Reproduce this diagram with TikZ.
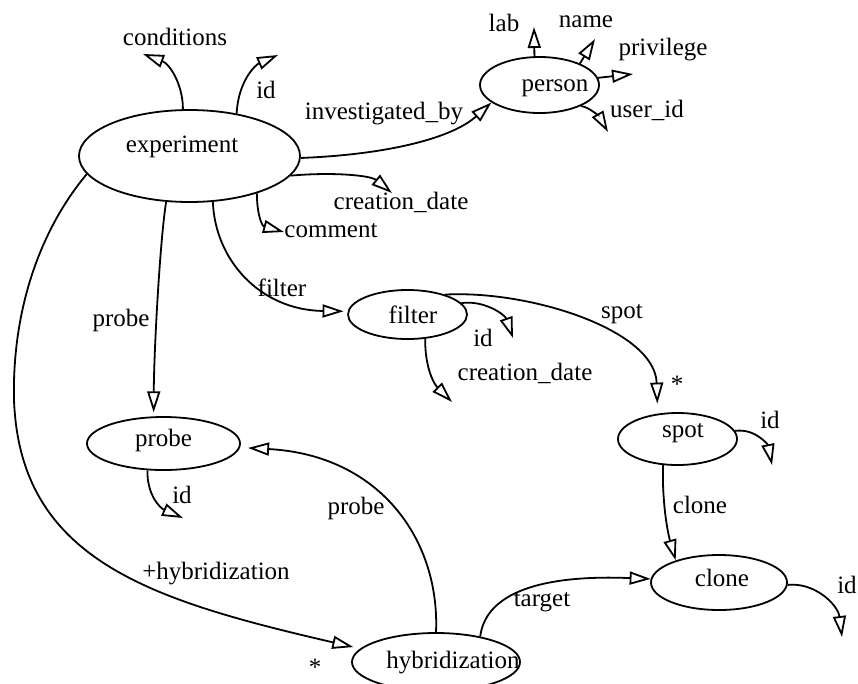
\documentclass[tikz,border=0pt]{standalone}
\usepackage{fontspec}
\setmainfont{Liberation Serif}
\usetikzlibrary{shapes.geometric,arrows.meta}
\begin{document}
\begin{tikzpicture}[x=1pt,y=-1pt,
  ent/.style={ellipse,draw,line width=1.8pt,inner sep=0pt},
  lbl/.style={inner sep=0pt,font=\fontsize{25}{30}\selectfont},
  arr/.style={line width=1.8pt,-{Triangle[open,length=21pt,width=13pt,line width=1.8pt]}},
]
\useasboundingbox (0,0) rectangle (858,683);

% entities
\node[ent,minimum width=221pt,minimum height=92pt,label={[lbl,xshift=-7.5pt,yshift=9pt]center:experiment}] (exp) at (189.5,156) {};
\node[ent,minimum width=119pt,minimum height=56pt,label={[lbl,xshift=15.5pt,yshift=-3pt]center:person}] (person) at (539.5,85) {};
\node[ent,minimum width=119pt,minimum height=49pt,label={[lbl,xshift=5.5pt,yshift=-0.5pt]center:filter}] (filter) at (407.5,314.5) {};
\node[ent,minimum width=119pt,minimum height=52pt,label={[lbl,xshift=5.5pt,yshift=6pt]center:spot}] (spot) at (677.5,439) {};
\node[ent,minimum width=136pt,minimum height=55pt,label={[lbl,xshift=3pt,yshift=4.5pt]center:clone}] (clone) at (719,582.5) {};
\node[ent,minimum width=153pt,minimum height=53pt,label={[lbl,xshift=0pt,yshift=3.5pt]center:probe}] (probe) at (163.5,443.5) {};
\node[ent,minimum width=168pt,minimum height=58pt,label={[lbl,xshift=17pt,yshift=-1pt]center:hybridization}] (hyb) at (436,662) {};

% free ends of attribute arrows
\coordinate (tcond) at (143,54);
\coordinate (tid1) at (278,55);
\coordinate (tcd1) at (392,193);
\coordinate (tcom) at (284,232);
\coordinate (tlab) at (534,27);
\coordinate (tname) at (595,39);
\coordinate (tpriv) at (633,74);
\coordinate (tuid) at (608,132);
\coordinate (tfid) at (513,338);
\coordinate (tfcd) at (452,402);
\coordinate (tsid) at (772,465);
\coordinate (tcid) at (842,637);
\coordinate (tpid) at (183,518);

% experiment
\draw[arr] (exp.98) .. controls (183,85) and (170,64) .. (tcond);
\draw[arr] (exp.42) .. controls (238,82) and (255,65) .. (tid1);
\draw[arr] (exp.-1) .. controls (380,155) and (450,140) .. (person.-160);
\draw[arr] (exp.-11) .. controls (330,172) and (370,175) .. (tcd1);
\draw[arr] (exp.-29) .. controls (257,215) and (262,226) .. (tcom);
\draw[arr,shorten >=4pt] (exp.-63) .. controls (215,260) and (260,310) .. (filter.177);
\draw[arr,shorten >=4pt] (exp.-117) .. controls (160,240) and (154,350) .. (probe.110);
\draw[arr,shorten >=7pt] (exp.-170) .. controls (40,230) and (12,310) .. (14,400) .. controls (20,560) and (150,600) .. (hyb.170);

% person
\draw[arr] (person.100) -- (tlab);
\draw[arr] (person.28) -- (tname);
\draw[arr] (person.7) -- (tpriv);
\draw[arr] (person.-27) .. controls (590,107) and (600,118) .. (tuid);

% filter
\draw[arr] (filter.12.5) .. controls (485,300) and (505,315) .. (tfid);
\draw[arr] (filter.-54.5) .. controls (425,370) and (435,385) .. (tfcd);
\draw[arr,shorten >=10pt] (filter.28) .. controls (530,290) and (655,330) .. (spot.128);

% spot
\draw[arr] (spot.8.7) .. controls (755,428) and (768,445) .. (tsid);
\draw[arr] (spot.-119) .. controls (662,500) and (667,530) .. (clone.153);

% clone
\draw[arr] (clone.-2) .. controls (815,582) and (838,605) .. (tcid);

% hybridization
\draw[arr] (hyb.30) .. controls (485,598) and (530,574) .. (clone.177);
\draw[arr,shorten >=8pt] (hyb.90) .. controls (440,540) and (380,455) .. (probe.-3);

% probe
\draw[arr] (probe.-121) .. controls (147,495) and (160,508) .. (tpid);

% labels
\node[lbl] (lcond) at (175,37) {conditions};
\node[lbl] (lid1) at (266,90) {id};
\node[lbl] (linv) at (384,114) {investigated\_by};
\node[lbl] (lcd1) at (401,202) {creation\_date};
\node[lbl] (lcom) at (331,231) {comment};
\node[lbl] (lfil) at (282,288) {filter};
\node[lbl] (lprb1) at (121,320) {probe};
\node[lbl] (lhyb) at (216,574) {+hybridization};
\node[lbl] (ast1) at (315,667) {*};
\node[lbl] (llab) at (504,23) {lab};
\node[lbl] (lname) at (586,22) {name};
\node[lbl] (lpriv) at (663,50) {privilege};
\node[lbl] (luid) at (647,110) {user\_id};
\node[lbl] (lfid) at (483,338) {id};
\node[lbl] (lfcd) at (525,373) {creation\_date};
\node[lbl] (lspot) at (622,314) {spot};
\node[lbl] (ast2) at (677,384) {*};
\node[lbl] (lsid) at (770,420) {id};
\node[lbl] (lclone) at (700,505) {clone};
\node[lbl] (lcid) at (847,585) {id};
\node[lbl] (ltarget) at (542,602) {target};
\node[lbl] (lprb2) at (356,508) {probe};
\node[lbl] (lpid) at (182,495) {id};
\end{tikzpicture}
\end{document}
